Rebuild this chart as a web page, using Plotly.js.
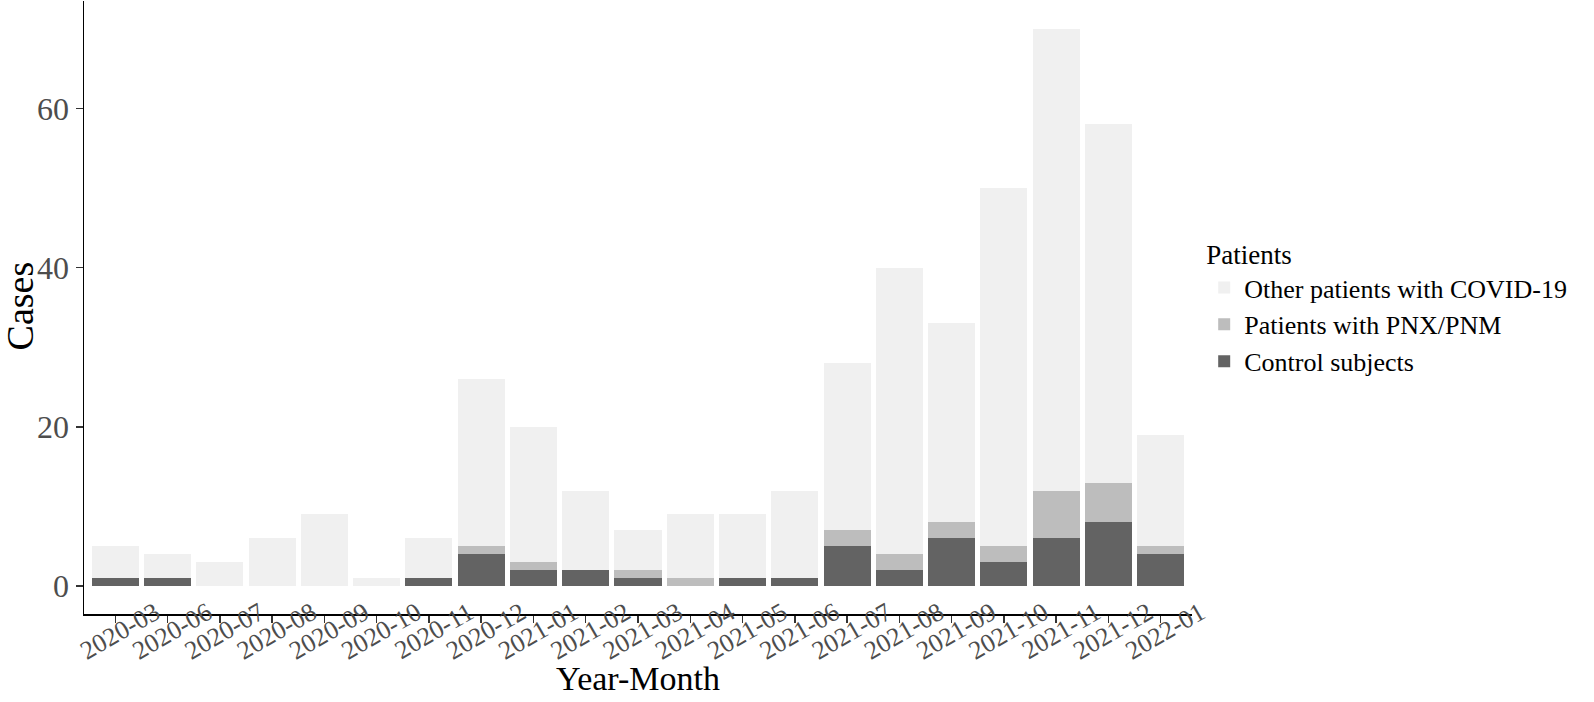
<!DOCTYPE html>
<html>
<head>
<meta charset="utf-8">
<script src="https://cdn.plot.ly/plotly-3.0.1.min.js"></script>
<style>
  body { margin: 0; background: #fff; }
  #graphCASES { width: 1594px; height: 702px; }
</style>
</head>
<body>
<div id="graphCASES"></div>
<script>
var months = [
  "2020-03", "2020-06", "2020-07", "2020-08", "2020-09", "2020-10", "2020-11",
  "2020-12", "2021-01", "2021-02", "2021-03", "2021-04", "2021-05", "2021-06",
  "2021-07", "2021-08", "2021-09", "2021-10", "2021-11", "2021-12", "2022-01",
];
var controlCases = [1, 1, 0, 0, 0, 0, 1, 4, 2, 2, 1, 0, 1, 1, 5, 2, 6, 3, 6, 8, 4];
var pnxCases = [0, 0, 0, 0, 0, 0, 0, 1, 1, 0, 1, 1, 0, 0, 2, 2, 2, 2, 6, 5, 1];
var otherCases = [4, 3, 3, 6, 9, 1, 5, 21, 17, 10, 5, 8, 8, 11, 21, 36, 25, 45, 58, 45, 14];

var serif = "Liberation Serif, Times New Roman, serif";

var traceCONTROL = {
  type: "bar",
  name: "Control subjects",
  x: months,
  y: controlCases,
  marker: { color: "#636363" },
};
var tracePNX = {
  type: "bar",
  name: "Patients with PNX/PNM",
  x: months,
  y: pnxCases,
  marker: { color: "#bdbdbd" },
};
var traceOTHER = {
  type: "bar",
  name: "Other patients with COVID-19",
  x: months,
  y: otherCases,
  marker: { color: "#f0f0f0" },
};

// axis titles as annotations so they sit where ggplot put them
var axisTitles = [
  {
    text: "Year-Month",
    xref: "paper", yref: "paper",
    x: 0.5, y: -0.106,
    xanchor: "center", yanchor: "middle",
    showarrow: false,
    font: { size: 34, color: "#000" },
  },
  {
    text: "Cases",
    xref: "paper", yref: "paper",
    x: -0.058, y: 0.503,
    xanchor: "center", yanchor: "middle",
    textangle: -90,
    showarrow: false,
    font: { size: 38, color: "#000" },
  },
];

var layout = {
  width: 1594,
  height: 702,
  autosize: false,
  barmode: "stack",
  bargap: 0.1,
  margin: { l: 84, r: 402, t: 1, b: 88 },
  paper_bgcolor: "#fff",
  plot_bgcolor: "#fff",
  font: { family: serif, color: "#000" },
  showlegend: true,
  legend: {
    x: 1.011,
    y: 0.628,
    xanchor: "left",
    yanchor: "top",
    traceorder: "reversed",
    title: { text: "Patients", font: { size: 27, color: "#000" } },
    font: { size: 26, color: "#000" },
  },
  annotations: axisTitles,
  xaxis: {
    type: "category",
    range: [-0.6, 20.6],
    tickangle: -30,
    ticklabelshift: 40,
    ticklabelstandoff: -35,
    tickfont: { size: 26, color: "#4d4d4d" },
    ticks: "outside",
    ticklen: 7,
    tickwidth: 1.5,
    tickcolor: "#333",
    showline: true,
    linecolor: "#000",
    linewidth: 1.5,
    showgrid: false,
    zeroline: false,
    automargin: false,
  },
  yaxis: {
    range: [-3.5, 73.5],
    tickvals: [0, 20, 40, 60],
    tickfont: { size: 32, color: "#4d4d4d" },
    ticks: "outside",
    ticklen: 7,
    tickwidth: 1.5,
    tickcolor: "#333",
    showline: true,
    linecolor: "#000",
    linewidth: 1.5,
    showgrid: false,
    zeroline: false,
    automargin: false,
  },
};

var config = {
  staticPlot: true,
  displayModeBar: false,
};

Plotly.newPlot("graphCASES", [traceCONTROL, tracePNX, traceOTHER], layout, config);
</script>
</body>
</html>
